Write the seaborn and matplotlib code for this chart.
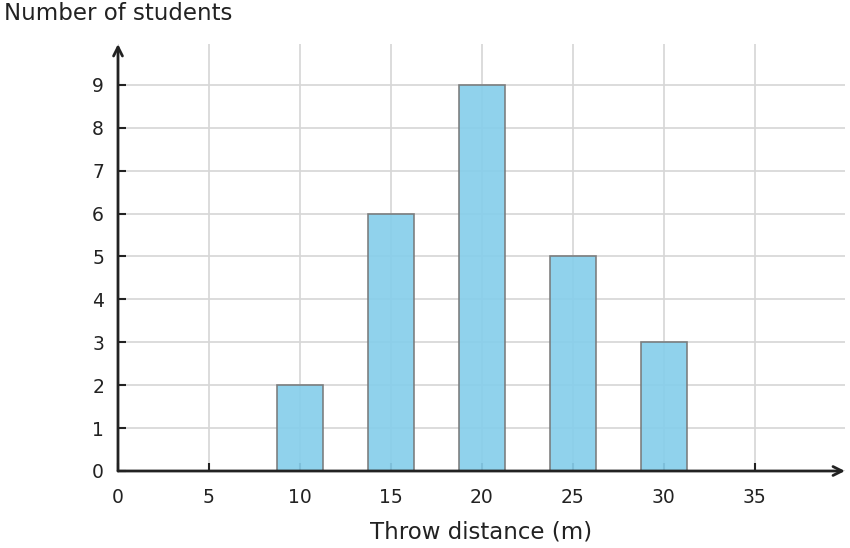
import numpy as np
import pandas as pd
import matplotlib.pyplot as plt
import seaborn as sns

# data
distance = [10, 15, 20, 25, 30]
students = [2, 6, 9, 5, 3]
x_ticks = [0, 5, 10, 15, 20, 25, 30, 35]
y_ticks = [0, 1, 2, 3, 4, 5, 6, 7, 8, 9]

df = pd.DataFrame({"distance": distance, "students": students})

sns.set_style("white")
plt.rcParams["font.family"] = ["DejaVu Sans"]

fig = plt.figure(figsize=(8.5, 5.48), dpi=100)
ax = fig.add_axes([118 / 850, 77 / 548, (845 - 118) / 850, (471 - 44) / 548])

# width is relative to the 5 m spacing in native scale
sns.barplot(data=df, x="distance", y="students", native_scale=True,
            width=0.5, color="#87CEEB", alpha=0.92, edgecolor="#777777",
            linewidth=1.2, saturation=1, ax=ax, zorder=3)

ax.set_xlim(0, 39.95)
ax.set_ylim(0, 9.95)
ax.set_xticks(x_ticks)
ax.set_yticks(y_ticks)
ax.grid(True, color="#d6d6d6", linewidth=1.2, zorder=0)
ax.set_axisbelow(True)
ax.tick_params(axis="both", direction="in", length=6, width=1.5,
               color="#222222", labelsize=13.5, labelcolor="#222222",
               bottom=True, left=True)
ax.tick_params(axis="x", pad=12)
ax.tick_params(axis="y", pad=10)

for s in ["top", "right", "left", "bottom"]:
    ax.spines[s].set_visible(False)

arrow = dict(arrowstyle="->", color="#222222", lw=2, mutation_scale=16,
             shrinkA=0, shrinkB=0)
ax.annotate("", xy=(0, 1.0), xytext=(0, 0), xycoords="axes fraction",
            arrowprops=arrow, annotation_clip=False)
ax.annotate("", xy=(1.0, 0), xytext=(0, 0), xycoords="axes fraction",
            arrowprops=arrow, annotation_clip=False)

ax.set_xlabel("Throw distance (m)", fontsize=16.5, color="#222222", labelpad=10)
ax.set_ylabel("")
fig.text(4 / 850, 1 - 13 / 548, "Number of students", fontsize=16.5,
         color="#222222", ha="left", va="center")

fig.savefig("out.png", dpi=100)
